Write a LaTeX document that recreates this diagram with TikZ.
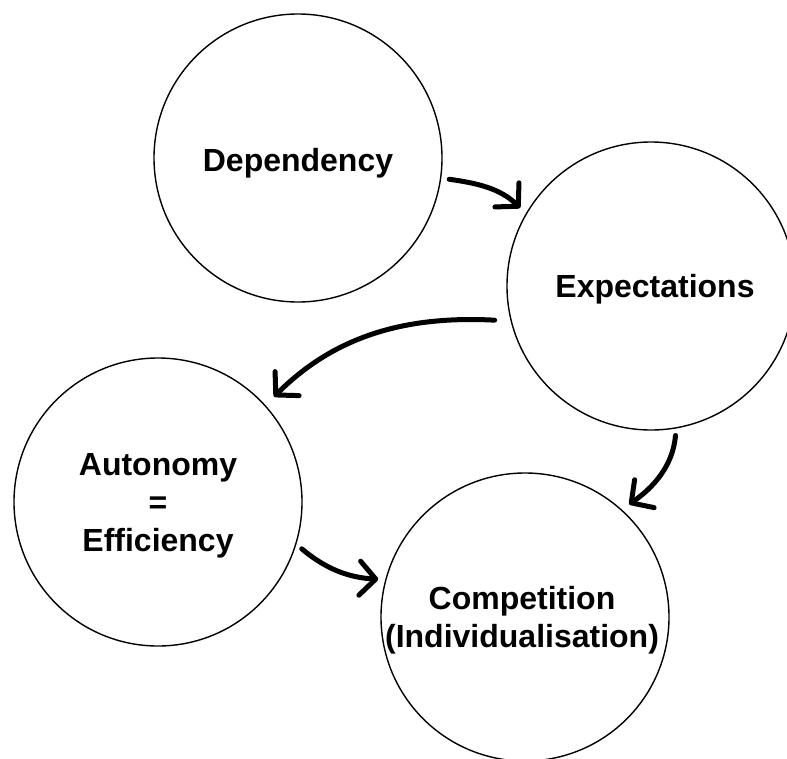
\documentclass[tikz,border=0pt]{standalone}
\usepackage{fontspec}
\setmainfont{Liberation Sans}
\usetikzlibrary{arrows.meta}
\begin{document}
\begin{tikzpicture}[x=1pt,y=-1pt,
  bubble/.style={circle, draw=black, line width=1.4pt, inner sep=0pt, minimum size=288pt},
  lbl/.style={font=\fontsize{32}{38}\selectfont\bfseries, align=center, inner sep=0pt},
  flow/.style={line width=5pt, line cap=round, draw=black,
    -{Straight Barb[length=16pt,width=34pt,round]}}]
\fill[white] (0,0) rectangle (787,758);
\useasboundingbox (0,0) rectangle (787,758);
% circles
\node[bubble] (dep) at (298,158) {};
\node[bubble] (exp) at (651,286) {};
\node[bubble] (aut) at (158,502) {};
\node[bubble] (com) at (525,617) {};
% labels
\node[lbl, anchor=base] (tdep) at (298,171) {Dependency};
\node[lbl, anchor=base] (texp) at (655,297) {Expectations};
\node[lbl] (taut) at (158,506) {Autonomy\\=\\Efficiency};
\node[lbl] (tcom) at (522,620) {Competition\\(Individualisation)};
% arrows
\draw[flow, shorten <=8pt, shorten >=8pt] (dep.-8.7) to[out=-8, in=135] (exp.150.9);
\draw[flow, shorten <=16pt, shorten >=12pt] (exp.-166.7) to[out=177, in=45] (aut.42.9);
\draw[flow, shorten <=7pt, shorten >=9pt] (exp.-80.1) to[out=-95, in=35] (com.48.2);
\draw[flow, shorten <=7pt, shorten >=7pt] (aut.-17.2) to[out=-40, in=177] (com.165.9);
\end{tikzpicture}
\end{document}
